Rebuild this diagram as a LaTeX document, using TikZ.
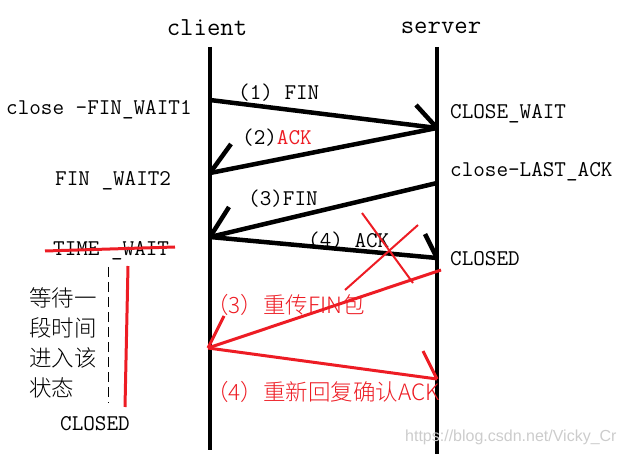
\documentclass[tikz,border=0pt]{standalone}
\usepackage{fontspec}
\newfontfamily\cjk{Noto Sans CJK SC Light}
\newfontfamily\wmfont{Liberation Sans}
\definecolor{myred}{RGB}{237,28,36}

\begin{document}
\begin{tikzpicture}[x=1pt, y=-1pt,
  line/.style={line width=4.5pt},
  redline/.style={draw=myred, line width=3pt},
  lbl/.style={font=\fontsize{22.5}{26}\selectfont\ttfamily, inner sep=0pt, anchor=west},
  cn/.style={font=\fontsize{22.5}{26}\selectfont\cjk, inner sep=0pt, anchor=west}]
  \useasboundingbox (0,0) rectangle (637,454);

  % 两端
  \node[lbl, anchor=center, font=\fontsize{26}{28}\selectfont\ttfamily] (client) at (207,28) {client};
  \node[lbl, anchor=center, font=\fontsize{26}{28}\selectfont\ttfamily] (server) at (441,28) {server};
  \coordinate (ctop) at (210,47);  \coordinate (cbot) at (210,450);
  \coordinate (stop) at (437,47);  \coordinate (sbot) at (437,454);
  \draw[line] (ctop) -- (cbot);
  \draw[line] (stop) -- (sbot);

  % 报文端点
  \coordinate (c1) at (210,100);  \coordinate (s1) at (437,128);
  \coordinate (c2) at (210,173);  \coordinate (s3) at (437,183);
  \coordinate (c3) at (210,237);  \coordinate (s4) at (437,258);
  \coordinate (s5) at (441,270);  \coordinate (c5) at (208,348);
  \coordinate (s6) at (437,379);

  % 四次挥手
  \draw[line] (c1) -- (s1);
  \draw[line] (s1) -- ++(-21,-23);
  \draw[line] (s1) -- (c2);
  \draw[line] (c2) -- ++(21,-29);
  \draw[line] (s3) -- (c3);
  \draw[line] (c3) -- ++(19,-30);
  \draw[line] (c3) -- (s4);
  \draw[line] (s4) -- ++(-12,-24);

  \node[lbl] (m1) at (238,93) {(1) FIN};
  \node[lbl] (m2) at (242,138) {(2)\textcolor{myred}{ACK}};
  \node[lbl] (m3) at (248,199) {(3)FIN};
  \node[lbl] (m4) at (308,241) {(4) ACK};

  % ACK 丢失
  \coordinate (x1) at (362,213);  \coordinate (x2) at (413,283);
  \coordinate (x3) at (418,225);  \coordinate (x4) at (345,290);
  \draw[redline, line width=2pt] (x1) -- (x2);
  \draw[redline, line width=2pt] (x3) -- (x4);

  % 重传
  \draw[redline] (s5) -- (c5);
  \draw[redline] (c5) -- ++(16,-32);
  \draw[redline] (c5) -- (s6);
  \draw[redline] (s6) -- ++(-14,-28);
  \node[cn, text=myred] (r3) at (206,305) {（3）重传FIN包};
  \node[cn, text=myred] (r4) at (206,392) {（4）重新回复确认ACK};

  % 状态
  \node[lbl] (fw1) at (6,110) {close -FIN\_WAIT1};
  \node[lbl] (fw2) at (55,181) {FIN \_WAIT2};
  \node[lbl] (tw) at (53,251) {TIME \_WAIT};
  \node[lbl] (cw) at (450,114) {CLOSE\_WAIT};
  \node[lbl] (la) at (450,172) {close-LAST\_ACK};
  \node[lbl] (sc) at (450,259) {CLOSED};
  \node[lbl] (cc) at (60,424) {CLOSED};

  % TIME_WAIT 持续
  \coordinate (tw1) at (45,251);  \coordinate (tw2) at (175,247);
  \draw[redline] (tw1) -- (tw2);
  \coordinate (d1) at (108,267);  \coordinate (d2) at (108,403);
  \draw[line width=1pt, dash pattern=on 10pt off 5pt] (d1) -- (d2);
  \coordinate (v1) at (128,266);  \coordinate (v2) at (125,407);
  \draw[redline] (v1) -- (v2);
  \node[cn] (w1) at (29,298) {等待一};
  \node[cn] (w2) at (29,328) {段时间};
  \node[cn] (w3) at (29,358) {进入该};
  \node[cn] (w4) at (29,388) {状态};

  % 水印
  \node[inner sep=0pt, anchor=west, text=black!20, font=\fontsize{16}{18}\selectfont\wmfont] (wm) at (405,437) {https://blog.csdn.net/Vicky\_Cr};
\end{tikzpicture}
\end{document}
